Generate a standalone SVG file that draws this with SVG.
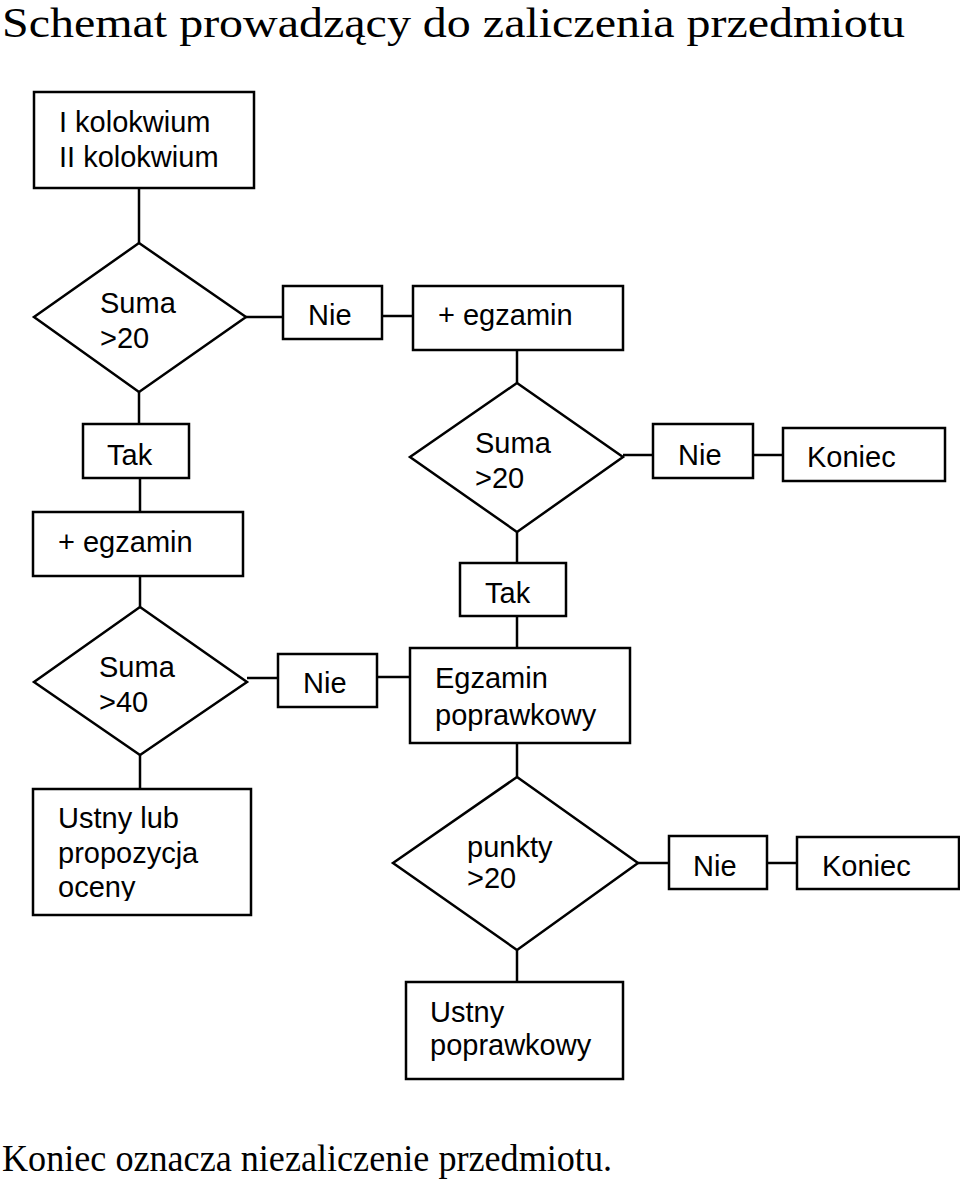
<svg xmlns="http://www.w3.org/2000/svg" width="960" height="1186" viewBox="0 0 960 1186">
<style>
.b{fill:#fff;stroke:#000;stroke-width:2.5}
.t{font-family:"Liberation Sans",Arial,sans-serif;font-size:29px;fill:#000}
.s{font-family:"Liberation Serif","Times New Roman",serif;fill:#000}
#connectors line{stroke:#000;stroke-width:2.5}
</style>
<defs>
<clipPath id="clipU"><rect x="33" y="789" width="218" height="112"/></clipPath>
</defs>
<rect width="960" height="1186" fill="#fff"/>
<text class="s" x="2" y="37" font-size="42" textLength="903" lengthAdjust="spacingAndGlyphs">Schemat prowadzący do zaliczenia przedmiotu</text>
<g id="connectors">
<line x1="139" y1="188" x2="139" y2="243"/>
<line x1="246" y1="317" x2="283" y2="317"/>
<line x1="382" y1="316" x2="413" y2="316"/>
<line x1="517" y1="350" x2="517" y2="383"/>
<line x1="623" y1="455" x2="653" y2="455"/>
<line x1="753" y1="455" x2="783" y2="455"/>
<line x1="517" y1="532" x2="517" y2="563"/>
<line x1="517" y1="616" x2="517" y2="648"/>
<line x1="517" y1="743" x2="517" y2="777"/>
<line x1="638" y1="863" x2="669" y2="863"/>
<line x1="767" y1="863" x2="797" y2="863"/>
<line x1="517" y1="950" x2="517" y2="982"/>
<line x1="139" y1="392" x2="139" y2="424"/>
<line x1="140" y1="478" x2="140" y2="512"/>
<line x1="140" y1="576" x2="140" y2="607"/>
<line x1="247" y1="678" x2="278" y2="678"/>
<line x1="377" y1="677" x2="410" y2="677"/>
<line x1="140" y1="755" x2="140" y2="789"/>
</g>
<g id="n-kolokwia">
<rect class="b" x="34" y="92" width="220" height="96"/>
<text class="t" x="59" y="132">I kolokwium</text>
<text class="t" x="59" y="167">II kolokwium</text>
</g>
<g id="d-suma1">
<polygon class="b" points="139,243 246,317 139,392 34,317"/>
<text class="t" x="100" y="313">Suma</text>
<text class="t" x="100" y="348">&gt;20</text>
</g>
<g id="n-nie1">
<rect class="b" x="283" y="286" width="99" height="53"/>
<text class="t" x="308" y="325">Nie</text>
</g>
<g id="n-egz1">
<rect class="b" x="413" y="286" width="210" height="64"/>
<text class="t" x="438" y="325">+ egzamin</text>
</g>
<g id="d-suma2">
<polygon class="b" points="517,383 623,457 517,532 410,457"/>
<text class="t" x="475" y="453">Suma</text>
<text class="t" x="475" y="488">&gt;20</text>
</g>
<g id="n-nie2">
<rect class="b" x="653" y="424" width="100" height="54"/>
<text class="t" x="678" y="465">Nie</text>
</g>
<g id="n-koniec1">
<rect class="b" x="783" y="428" width="162" height="53"/>
<text class="t" x="807" y="467">Koniec</text>
</g>
<g id="n-tak2">
<rect class="b" x="460" y="563" width="106" height="53"/>
<text class="t" x="485" y="603">Tak</text>
</g>
<g id="n-egzpop">
<rect class="b" x="410" y="648" width="220" height="95"/>
<text class="t" x="435" y="688">Egzamin</text>
<text class="t" x="435" y="725">poprawkowy</text>
</g>
<g id="d-punkty">
<polygon class="b" points="517,777 638,863 517,950 393,863"/>
<text class="t" x="467" y="857">punkty</text>
<text class="t" x="467" y="888">&gt;20</text>
</g>
<g id="n-nie4">
<rect class="b" x="669" y="836" width="98" height="53"/>
<text class="t" x="693" y="876">Nie</text>
</g>
<g id="n-koniec2">
<rect class="b" x="797" y="837" width="162" height="52"/>
<text class="t" x="822" y="876">Koniec</text>
</g>
<g id="n-ustpop">
<rect class="b" x="406" y="982" width="217" height="97"/>
<text class="t" x="430" y="1022">Ustny</text>
<text class="t" x="430" y="1055">poprawkowy</text>
</g>
<g id="n-tak1">
<rect class="b" x="83" y="424" width="106" height="54"/>
<text class="t" x="107" y="465">Tak</text>
</g>
<g id="n-egz2">
<rect class="b" x="33" y="512" width="210" height="64"/>
<text class="t" x="58" y="552">+ egzamin</text>
</g>
<g id="d-suma3">
<polygon class="b" points="140,607 247,682 140,755 34,682"/>
<text class="t" x="99" y="677">Suma</text>
<text class="t" x="99" y="712">&gt;40</text>
</g>
<g id="n-nie3">
<rect class="b" x="278" y="654" width="99" height="53"/>
<text class="t" x="303" y="693">Nie</text>
</g>
<g id="n-ustny">
<rect class="b" x="33" y="789" width="218" height="126"/>
<g clip-path="url(#clipU)">
<text class="t" x="58" y="828">Ustny lub</text>
<text class="t" x="58" y="863">propozycja</text>
<text class="t" x="58" y="897">oceny</text>
</g>
</g>
<text class="s" x="2" y="1171" font-size="37" textLength="610" lengthAdjust="spacingAndGlyphs">Koniec oznacza niezaliczenie przedmiotu.</text>
</svg>
